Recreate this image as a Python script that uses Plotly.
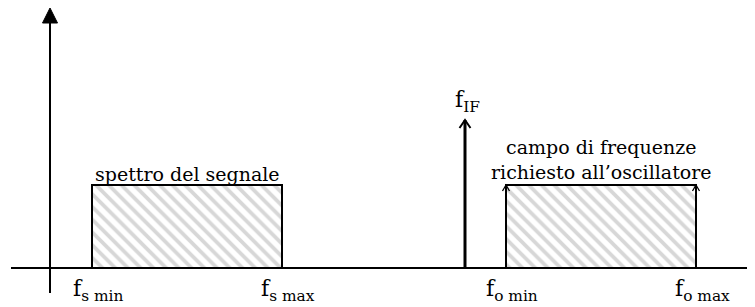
import plotly.graph_objects as go

# conceptual frequency positions (1 unit = 10 px)
freq_names = ["f<sub>s min</sub>", "f<sub>s max</sub>", "f<sub>o min</sub>", "f<sub>o max</sub>"]
freq_values = [4.2, 23.2, 45.6, 64.6]
f_if = 41.5
f_if_label = "f<sub>IF</sub>"
spectrum_height = 8.3
if_height = 14.8
signal_label = "spettro del segnale"
osc_label = "campo di frequenze<br>richiesto all’oscillatore"

x_range = [-4.2, 70.5]
y_range = [-3.9, 26.0]

FONT = "DejaVu Serif"
fig = go.Figure()

def rect(x0, x1, h):
    fig.add_trace(go.Scatter(
        x=[x0, x0, x1, x1, x0], y=[0, h, h, 0, 0], mode="lines",
        fill="toself", fillcolor="white",
        fillpattern=dict(shape="\\", size=9, solidity=0.42,
                         fgcolor="#b0b0b0", bgcolor="white"),
        line=dict(color="black", width=2), hoverinfo="skip"))

rect(freq_values[0], freq_values[1], spectrum_height)
rect(freq_values[2], freq_values[3], spectrum_height)

# axes
fig.add_trace(go.Scatter(x=[-3.9, 70.0], y=[0, 0], mode="lines",
                         line=dict(color="black", width=2), hoverinfo="skip"))
fig.add_trace(go.Scatter(x=[0, 0], y=[-2.5, 25.0], mode="lines",
                         line=dict(color="black", width=2), hoverinfo="skip"))
# arrowheads (filled)
fig.add_trace(go.Scatter(x=[-0.75, 0, 0.75, -0.75], y=[24.5, 26.0, 24.5, 24.5],
                         mode="lines", fill="toself", fillcolor="black",
                         line=dict(color="black", width=1), hoverinfo="skip"))
fig.add_trace(go.Scatter(x=[69.8, 71.3, 69.8, 69.8], y=[0.75, 0, -0.75, 0.75],
                         mode="lines", fill="toself", fillcolor="black",
                         line=dict(color="black", width=1), hoverinfo="skip"))

# IF spike
fig.add_trace(go.Scatter(x=[f_if, f_if], y=[0, if_height], mode="lines",
                         line=dict(color="black", width=3), hoverinfo="skip"))
fig.add_trace(go.Scatter(x=[f_if - 0.55, f_if, f_if + 0.55],
                         y=[if_height - 0.8, if_height, if_height - 0.8], mode="lines",
                         line=dict(color="black", width=2), hoverinfo="skip"))
# small arrows on oscillator band edges
for xv in freq_values[2:]:
    fig.add_trace(go.Scatter(x=[xv - 0.35, xv, xv + 0.35],
                             y=[spectrum_height - 0.6, spectrum_height, spectrum_height - 0.6],
                             mode="lines", line=dict(color="black", width=1.3),
                             hoverinfo="skip"))

# labels
for name, xv in zip(freq_names, freq_values):
    fig.add_annotation(x=xv + 0.6, y=-2.2, text=name, showarrow=False,
                       font=dict(family=FONT, size=22, color="black"),
                       xanchor="center", yanchor="middle")
fig.add_annotation(x=f_if + 0.2, y=if_height + 1.9, text=f_if_label, showarrow=False,
                   font=dict(family=FONT, size=22, color="black"),
                   xanchor="center", yanchor="middle")
fig.add_annotation(x=(freq_values[0] + freq_values[1]) / 2, y=spectrum_height,
                   text=signal_label, showarrow=False,
                   font=dict(family=FONT, size=19, color="black"),
                   xanchor="center", yanchor="bottom", yshift=-2)
fig.add_annotation(x=(freq_values[2] + freq_values[3]) / 2, y=spectrum_height,
                   text=osc_label, showarrow=False,
                   font=dict(family=FONT, size=19, color="black"),
                   xanchor="center", yanchor="bottom")

fig.update_layout(width=747, height=299, margin=dict(l=0, r=0, t=0, b=0),
                  showlegend=False, plot_bgcolor="white", paper_bgcolor="white",
                  font=dict(family=FONT))
fig.update_xaxes(range=x_range, visible=False, fixedrange=True)
fig.update_yaxes(range=y_range, visible=False, fixedrange=True)
fig.write_html("out.html")
